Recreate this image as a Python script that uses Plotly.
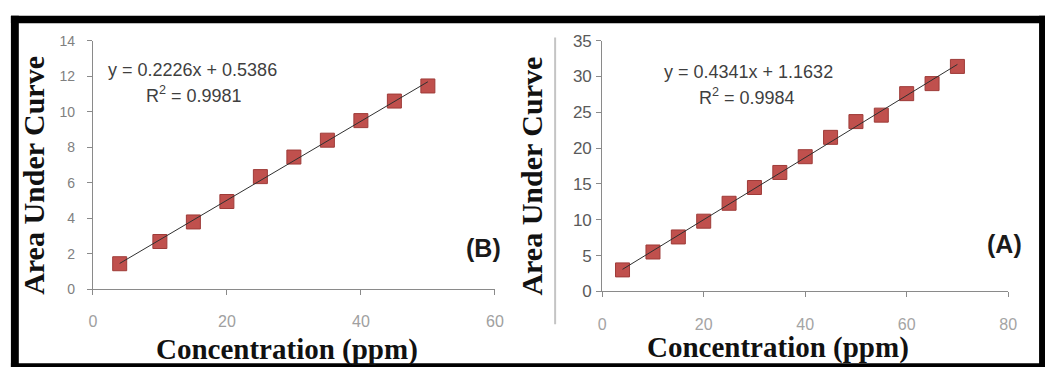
import numpy as np
import plotly.graph_objects as go

# ---------------- data ----------------
conc_B = [4, 10, 15, 20, 25, 30, 35, 40, 45, 50]
auc_B = [1.45, 2.7, 3.8, 4.95, 6.35, 7.45, 8.4, 9.5, 10.6, 11.45]
conc_A = [4, 10, 15, 20, 25, 30, 35, 40, 45, 50, 55, 60, 65, 70]
auc_A = [3.0, 5.5, 7.6, 9.8, 12.3, 14.5, 16.6, 18.8, 21.5, 23.7, 24.6, 27.6, 29.0, 31.4]
eq_B = ["y = 0.2226x + 0.5386", "R<sup>2</sup> = 0.9981"]
eq_A = ["y = 0.4341x + 1.1632", "R<sup>2</sup> = 0.9984"]
label_B = "(B)"
label_A = "(A)"
x_title = "Concentration (ppm)"
y_title = "Area Under Curve"

W, H = 1054, 379
def px(x):
    return x / W
def py(y):
    return 1 - y / H

fig = go.Figure()

mk = dict(symbol="square", size=14, color="#c0504d", line=dict(color="#9e3b38", width=1))
fig.add_trace(go.Scatter(x=conc_B, y=auc_B, mode="markers", marker=mk, xaxis="x", yaxis="y", showlegend=False))
fig.add_trace(go.Scatter(x=conc_A, y=auc_A, mode="markers", marker=mk, xaxis="x2", yaxis="y2", showlegend=False))

# trend lines (least-squares fit of the read data)
for xs, ys, xa, ya in [(conc_B, auc_B, "x", "y"), (conc_A, auc_A, "x2", "y2")]:
    m, b = np.polyfit(xs, ys, 1)
    xe = [min(xs), max(xs)]
    fig.add_trace(go.Scatter(x=xe, y=[m * v + b for v in xe], mode="lines",
                             line=dict(color="#303030", width=1), xaxis=xa, yaxis=ya, showlegend=False))

axcol = "#8a8a8a"
def axis(dom, rng, dtick, fsize, fcol, standoff, anchor):
    return dict(domain=dom, range=rng, dtick=dtick, showgrid=False, zeroline=False,
                showline=True, linecolor=axcol, linewidth=1, ticks="outside", ticklen=5,
                tickcolor=axcol, tickwidth=1, anchor=anchor,
                tickfont=dict(family="Liberation Sans", size=fsize, color=fcol),
                ticklabelstandoff=standoff)

fig.update_layout(
    width=W, height=H, margin=dict(l=0, r=0, t=0, b=0),
    paper_bgcolor="white", plot_bgcolor="white",
    xaxis=axis([px(90), px(497)], [0, 60], 20, 16, "#a0a0a0", 12, "y"),
    yaxis=axis([py(295.3), py(33.3)], [0, 14], 2, 14, "#808080", 9, "x"),
    xaxis2=axis([px(605.7), px(1016.7)], [0, 80], 20, 16, "#a4a4a4", 13, "y2"),
    yaxis2=axis([py(297.3), py(33.3)], [0, 35], 5, 17, "#5a5a5a", 1, "x2"),
)

ann = []
eqfont = dict(family="Liberation Sans", size=18, color="#3f3f3f")
ann.append(dict(x=px(191), y=py(64), text=eq_B[0], font=eqfont))
ann.append(dict(x=px(192), y=py(90), text=eq_B[1], font=eqfont))
ann.append(dict(x=px(754), y=py(66), text=eq_A[0], font=eqfont))
ann.append(dict(x=px(752), y=py(92), text=eq_A[1], font=eqfont))
lblfont = dict(family="Liberation Sans", size=25, color="#1a1a1a")
ann.append(dict(x=px(485), y=py(252), text="<b>" + label_B + "</b>", font=lblfont))
ann.append(dict(x=px(1013), y=py(247), text="<b>" + label_A + "</b>", font=lblfont))
tfont = dict(family="Liberation Serif", size=29, color="#111111")
ann.append(dict(x=px(287), y=py(358), text="<b>" + x_title + "</b>", font=tfont))
ann.append(dict(x=px(784), y=py(356), text="<b>" + x_title + "</b>", font=tfont))
yfont = dict(family="Liberation Serif", size=30, color="#111111")
ann.append(dict(x=px(30), y=py(175), text="<b>" + y_title + "</b>", font=yfont, textangle=-90))
ann.append(dict(x=px(534), y=py(176), text="<b>" + y_title + "</b>", font=yfont, textangle=-90))
for a in ann:
    a.update(xref="paper", yref="paper", showarrow=False, xanchor="center", yanchor="middle")
fig.update_layout(annotations=ann)

# black outer frame and gray inner chart border
shapes = []
for x0, y0, x1, y1 in [(7, 7, 1054, 15), (7, 7, 15, 377), (7, 373, 1054, 377), (1048, 7, 1054, 377)]:
    shapes.append(dict(type="rect", xref="paper", yref="paper", x0=px(x0), x1=px(x1), y0=py(y1), y1=py(y0),
                       fillcolor="black", line=dict(width=0), layer="above"))
shapes.append(dict(type="line", xref="paper", yref="paper", x0=px(558), x1=px(558), y0=py(332), y1=py(30),
                   line=dict(color="#c4c4c4", width=2)))
fig.update_layout(shapes=shapes)

fig.write_html("out.html")
